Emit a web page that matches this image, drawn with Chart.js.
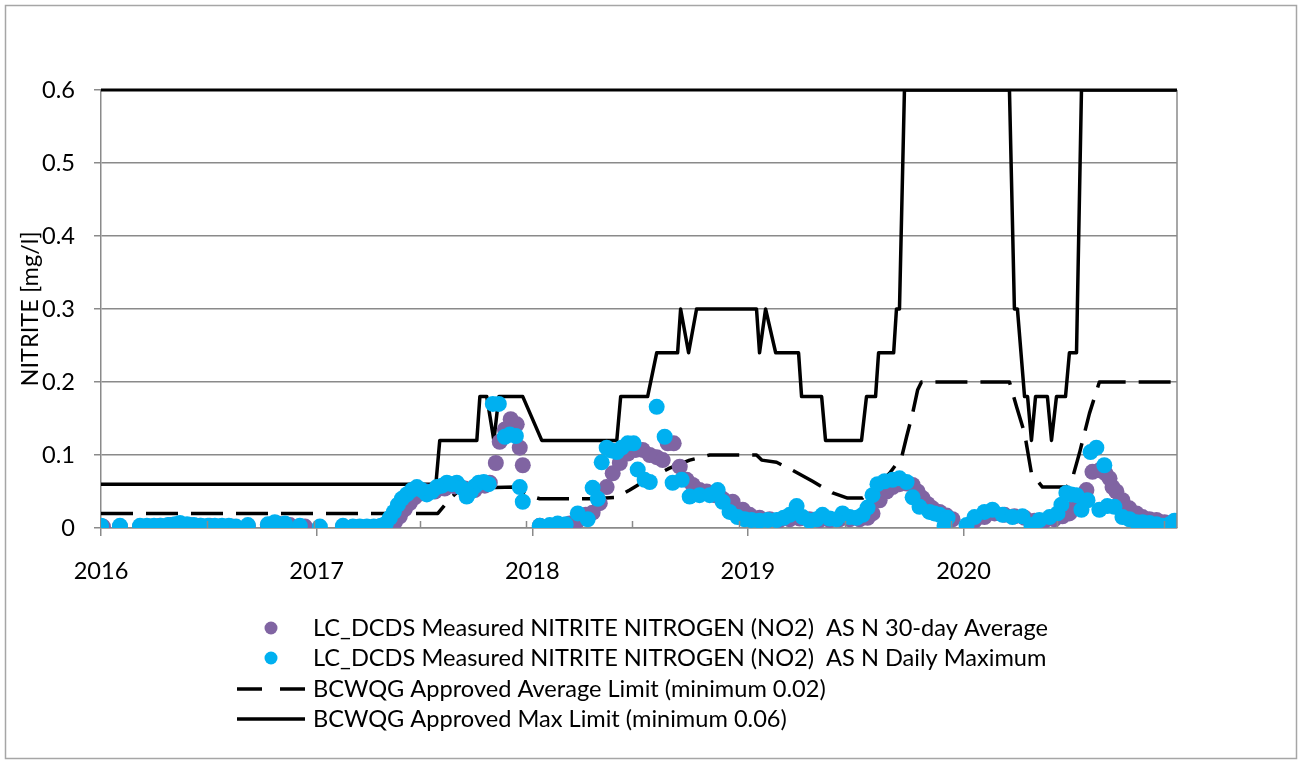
<!DOCTYPE html>
<html>
<head>
<meta charset="utf-8">
<title>NITRITE – LC_DCDS</title>
<script src="https://cdn.jsdelivr.net/npm/chart.js@4.4.1/dist/chart.umd.min.js"></script>
<style>
  html, body { margin: 0; padding: 0; background: #fff; }
  #c { display: block; }
</style>
</head>
<body>
<canvas id="c" width="1302" height="764"></canvas>
<script>
// ---- data (x = decimal year) ----
const seriesNames = [
  'LC_DCDS Measured NITRITE NITROGEN (NO2)  AS N 30-day Average',
  'LC_DCDS Measured NITRITE NITROGEN (NO2)  AS N Daily Maximum',
  'BCWQG Approved Average Limit (minimum 0.02)',
  'BCWQG Approved Max Limit (minimum 0.06)'
];
const yearTicks = [2016, 2017, 2018, 2019, 2020];

const avg30Dates = [
  2016.009, 2016.088, 2016.181, 2016.227, 2016.273, 2016.320, 2016.366, 2016.413, 2016.459, 2016.505,
  2016.552, 2016.607, 2016.681, 2016.774, 2016.820, 2016.876, 2016.946, 2017.122, 2017.177, 2017.224,
  2017.270, 2017.307, 2017.340, 2017.363, 2017.386, 2017.409, 2017.432, 2017.455, 2017.479, 2017.511,
  2017.548, 2017.594, 2017.641, 2017.687, 2017.733, 2017.780, 2017.803, 2017.831, 2017.849, 2017.873,
  2017.900, 2017.928, 2017.942, 2017.956, 2018.035, 2018.081, 2018.127, 2018.174, 2018.211, 2018.248,
  2018.280, 2018.313, 2018.345, 2018.373, 2018.406, 2018.443, 2018.480, 2018.512, 2018.545, 2018.577,
  2018.605, 2018.628, 2018.656, 2018.684, 2018.716, 2018.744, 2018.776, 2018.809, 2018.846, 2018.883,
  2018.929, 2018.976, 2019.008, 2019.054, 2019.101, 2019.147, 2019.194, 2019.240, 2019.286, 2019.333,
  2019.379, 2019.425, 2019.472, 2019.518, 2019.555, 2019.578, 2019.611, 2019.643, 2019.671, 2019.703,
  2019.736, 2019.764, 2019.787, 2019.810, 2019.833, 2019.856, 2019.889, 2019.921, 2019.949, 2020.051,
  2020.097, 2020.144, 2020.190, 2020.236, 2020.283, 2020.329, 2020.375, 2020.421, 2020.459, 2020.491,
  2020.519, 2020.542, 2020.570, 2020.598, 2020.630, 2020.658, 2020.677, 2020.691, 2020.709, 2020.737,
  2020.769, 2020.802, 2020.830, 2020.862, 2020.895, 2020.932, 2020.964, 2020.987
];
const avg30Values = [
  0.002, 0.002, 0.002, 0.002, 0.003, 0.004, 0.005, 0.004, 0.003, 0.003,
  0.002, 0.002, 0.003, 0.004, 0.006, 0.004, 0.002, 0.002, 0.001, 0.001,
  0.001, 0.002, 0.004, 0.008, 0.016, 0.026, 0.034, 0.042, 0.047, 0.050,
  0.050, 0.054, 0.057, 0.054, 0.052, 0.058, 0.062, 0.089, 0.118, 0.135,
  0.149, 0.142, 0.110, 0.086, 0.003, 0.003, 0.004, 0.006, 0.010, 0.018,
  0.021, 0.034, 0.056, 0.075, 0.089, 0.102, 0.107, 0.107, 0.100, 0.097,
  0.093, 0.116, 0.116, 0.084, 0.066, 0.059, 0.052, 0.050, 0.045, 0.040,
  0.036, 0.025, 0.018, 0.014, 0.012, 0.011, 0.012, 0.013, 0.012, 0.011,
  0.011, 0.012, 0.012, 0.012, 0.014, 0.020, 0.038, 0.050, 0.056, 0.060,
  0.061, 0.059, 0.050, 0.041, 0.033, 0.027, 0.022, 0.017, 0.012, 0.010,
  0.015, 0.020, 0.018, 0.016, 0.014, 0.010, 0.010, 0.012, 0.016, 0.020,
  0.030, 0.040, 0.052, 0.077, 0.079, 0.075, 0.068, 0.056, 0.050, 0.038,
  0.027, 0.020, 0.015, 0.012, 0.011, 0.008, 0.007, 0.006
];

const dailyMaxDates = [
  2016.000, 2016.088, 2016.181, 2016.213, 2016.246, 2016.278, 2016.311, 2016.343, 2016.366, 2016.399,
  2016.431, 2016.464, 2016.496, 2016.528, 2016.561, 2016.593, 2016.626, 2016.681, 2016.774, 2016.806,
  2016.853, 2016.922, 2017.015, 2017.122, 2017.168, 2017.200, 2017.233, 2017.265, 2017.298, 2017.321,
  2017.340, 2017.358, 2017.377, 2017.395, 2017.418, 2017.441, 2017.465, 2017.488, 2017.511, 2017.534,
  2017.557, 2017.581, 2017.604, 2017.627, 2017.650, 2017.673, 2017.696, 2017.715, 2017.733, 2017.752,
  2017.775, 2017.798, 2017.817, 2017.845, 2017.873, 2017.896, 2017.924, 2017.942, 2017.956, 2018.035,
  2018.081, 2018.118, 2018.155, 2018.211, 2018.257, 2018.280, 2018.304, 2018.322, 2018.345, 2018.368,
  2018.392, 2018.415, 2018.443, 2018.470, 2018.489, 2018.521, 2018.545, 2018.577, 2018.614, 2018.651,
  2018.693, 2018.730, 2018.776, 2018.823, 2018.860, 2018.883, 2018.915, 2018.952, 2018.985, 2019.017,
  2019.054, 2019.092, 2019.133, 2019.166, 2019.194, 2019.226, 2019.254, 2019.286, 2019.319, 2019.346,
  2019.379, 2019.411, 2019.439, 2019.472, 2019.504, 2019.532, 2019.555, 2019.578, 2019.601, 2019.634,
  2019.671, 2019.703, 2019.736, 2019.764, 2019.796, 2019.842, 2019.865, 2019.889, 2019.912, 2019.926,
  2020.014, 2020.051, 2020.097, 2020.134, 2020.181, 2020.227, 2020.273, 2020.315, 2020.352, 2020.399,
  2020.436, 2020.454, 2020.477, 2020.500, 2020.524, 2020.547, 2020.575, 2020.589, 2020.616, 2020.630,
  2020.653, 2020.667, 2020.700, 2020.737, 2020.769, 2020.802, 2020.830, 2020.862, 2020.895, 2020.922,
  2020.955, 2020.978
];
const dailyMaxValues = [
  0.003, 0.003, 0.003, 0.003, 0.003, 0.003, 0.004, 0.005, 0.007, 0.005,
  0.004, 0.003, 0.003, 0.003, 0.003, 0.003, 0.002, 0.004, 0.005, 0.008,
  0.006, 0.003, 0.002, 0.003, 0.002, 0.002, 0.002, 0.002, 0.003, 0.006,
  0.014, 0.022, 0.032, 0.040, 0.046, 0.052, 0.056, 0.052, 0.046, 0.050,
  0.056, 0.058, 0.062, 0.060, 0.062, 0.055, 0.043, 0.050, 0.057, 0.062,
  0.063, 0.060, 0.170, 0.170, 0.125, 0.128, 0.126, 0.056, 0.036, 0.003,
  0.004, 0.006, 0.005, 0.020, 0.012, 0.055, 0.040, 0.090, 0.110, 0.106,
  0.104, 0.110, 0.116, 0.116, 0.080, 0.066, 0.063, 0.166, 0.125, 0.062,
  0.066, 0.043, 0.045, 0.045, 0.052, 0.036, 0.022, 0.015, 0.012, 0.011,
  0.010, 0.011, 0.011, 0.014, 0.018, 0.030, 0.015, 0.010, 0.012, 0.018,
  0.013, 0.012, 0.020, 0.015, 0.014, 0.018, 0.028, 0.045, 0.060, 0.064,
  0.066, 0.068, 0.063, 0.042, 0.029, 0.022, 0.020, 0.018, 0.003, 0.014,
  0.004, 0.015, 0.022, 0.025, 0.018, 0.015, 0.016, 0.004, 0.011, 0.015,
  0.020, 0.032, 0.048, 0.046, 0.045, 0.025, 0.038, 0.104, 0.110, 0.025,
  0.086, 0.030, 0.029, 0.015, 0.012, 0.008, 0.008, 0.007, 0.005, 0.003,
  0.005, 0.010
];

const avgLimitDates = [
  2016.000, 2017.562, 2017.618, 2017.673, 2017.919, 2017.979, 2018.035, 2018.280, 2018.392, 2018.452,
  2018.531, 2018.637, 2018.730, 2018.823, 2019.040, 2019.064, 2019.133, 2019.207, 2019.300, 2019.393,
  2019.462, 2019.532, 2019.587, 2019.657, 2019.713, 2019.736, 2019.764, 2019.787, 2019.805, 2020.213,
  2020.246, 2020.283, 2020.315, 2020.366, 2020.477, 2020.500, 2020.538, 2020.584, 2020.630, 2020.992
];
const avgLimitValues = [
  0.020, 0.020, 0.040, 0.055, 0.056, 0.045, 0.040, 0.040, 0.042, 0.052,
  0.066, 0.082, 0.093, 0.100, 0.100, 0.093, 0.090, 0.079, 0.064, 0.048,
  0.041, 0.041, 0.055, 0.075, 0.097, 0.125, 0.157, 0.189, 0.200, 0.200,
  0.166, 0.130, 0.075, 0.056, 0.056, 0.063, 0.103, 0.157, 0.200, 0.200
];

const maxLimitDates = [
  2016.000, 2017.553, 2017.571, 2017.743, 2017.757, 2017.789, 2017.822, 2017.845, 2017.956, 2018.044,
  2018.392, 2018.410, 2018.535, 2018.577, 2018.674, 2018.688, 2018.725, 2018.762, 2019.040, 2019.054,
  2019.082, 2019.129, 2019.235, 2019.249, 2019.342, 2019.360, 2019.527, 2019.550, 2019.592, 2019.606,
  2019.676, 2019.689, 2019.703, 2019.726, 2020.213, 2020.236, 2020.250, 2020.283, 2020.297, 2020.315,
  2020.334, 2020.389, 2020.408, 2020.431, 2020.473, 2020.491, 2020.524, 2020.547, 2020.992
];
const maxLimitValues = [
  0.06, 0.06, 0.12, 0.12, 0.18, 0.18, 0.12, 0.18, 0.18, 0.12,
  0.12, 0.18, 0.18, 0.24, 0.24, 0.30, 0.24, 0.30, 0.30, 0.24,
  0.30, 0.24, 0.24, 0.18, 0.18, 0.12, 0.12, 0.18, 0.18, 0.24,
  0.24, 0.30, 0.30, 0.60, 0.60, 0.30, 0.30, 0.18, 0.18, 0.12,
  0.18, 0.18, 0.12, 0.18, 0.18, 0.24, 0.24, 0.60, 0.60
];

// ---- styling ----
const PURPLE = '#8064A2';
const CYAN = '#00B0F0';
const GRID = '#8a8a8a';
const FONT = { family: 'Lato, "DejaVu Sans", sans-serif', size: 23.6 };
const HALF_YEAR = 180 / 365.25;   // spacing of the small inner ticks on the date axis

const toPoints = (dates, values) => dates.map((d, i) => ({ x: d, y: values[i] }));

// White background, outer frame, top rule, right border and inner date ticks
const framePlugin = {
  id: 'frame',
  beforeDraw(chart) {
    const ctx = chart.ctx;
    ctx.save();
    ctx.fillStyle = '#fff';
    ctx.fillRect(0, 0, chart.width, chart.height);
    ctx.restore();
  },
  afterDraw(chart) {
    const { ctx, chartArea: a, scales } = chart;
    ctx.save();
    ctx.strokeStyle = '#a6a6a6';
    ctx.lineWidth = 1.5;
    ctx.strokeRect(5.5, 5.5, chart.width - 11, chart.height - 11);

    ctx.strokeStyle = GRID;
    ctx.lineWidth = 1.5;
    ctx.beginPath();
    ctx.moveTo(a.right, a.top);
    ctx.lineTo(a.right, a.bottom);
    ctx.stroke();

    // inner ticks of the date axis
    const xs = scales.x;
    ctx.beginPath();
    for (let v = xs.min + HALF_YEAR; v < xs.max; v += HALF_YEAR) {
      const px = Math.round(xs.getPixelForValue(v)) + 0.5;
      ctx.moveTo(px, a.bottom);
      ctx.lineTo(px, a.bottom - 7);
    }
    ctx.stroke();

    ctx.strokeStyle = '#000';
    ctx.lineWidth = 3;
    ctx.beginPath();
    ctx.moveTo(a.left, a.top);
    ctx.lineTo(a.right, a.top);
    ctx.stroke();
    ctx.restore();
  }
};

// Legend stacked under the plot, one entry per row
const legendPlugin = {
  id: 'stackedLegend',
  afterDraw(chart) {
    const ctx = chart.ctx;
    const rowY = [628, 658, 689, 719];
    const markX = 271, lineX0 = 237, lineX1 = 305, textX = 313;
    ctx.save();
    ctx.font = `${FONT.size}px ${FONT.family}`;
    ctx.textBaseline = 'middle';
    ctx.textAlign = 'left';
    chart.data.datasets.forEach((ds, i) => {
      const y = rowY[i];
      if (ds.showLine) {
        ctx.strokeStyle = ds.borderColor;
        ctx.lineWidth = ds.borderWidth;
        ctx.setLineDash(ds.borderDash ? [25, 18] : []);
        ctx.beginPath();
        ctx.moveTo(lineX0, y);
        ctx.lineTo(lineX1, y);
        ctx.stroke();
        ctx.setLineDash([]);
      } else {
        ctx.fillStyle = ds.backgroundColor;
        ctx.beginPath();
        ctx.arc(markX, y, 6.5, 0, Math.PI * 2);
        ctx.fill();
      }
      ctx.fillStyle = '#000';
      ctx.fillText(ds.label, textX, y);
    });
    ctx.restore();
  }
};

new Chart(document.getElementById('c'), {
  type: 'scatter',
  data: {
    datasets: [
      {
        label: seriesNames[0],
        data: toPoints(avg30Dates, avg30Values),
        backgroundColor: PURPLE, borderColor: PURPLE,
        pointRadius: 8, pointBorderWidth: 0, order: 1
      },
      {
        label: seriesNames[1],
        data: toPoints(dailyMaxDates, dailyMaxValues),
        backgroundColor: CYAN, borderColor: CYAN,
        pointRadius: 8, pointBorderWidth: 0, order: 0
      },
      {
        label: seriesNames[2],
        data: toPoints(avgLimitDates, avgLimitValues),
        showLine: true, borderColor: '#000', backgroundColor: '#000',
        borderWidth: 3.5, borderDash: [32, 13], borderJoinStyle: 'round',
        pointRadius: 0, tension: 0, order: 2
      },
      {
        label: seriesNames[3],
        data: toPoints(maxLimitDates, maxLimitValues),
        showLine: true, borderColor: '#000', backgroundColor: '#000',
        borderWidth: 3.5, borderJoinStyle: 'round',
        pointRadius: 0, tension: 0, order: 3
      }
    ]
  },
  options: {
    responsive: false,
    animation: false,
    devicePixelRatio: 1,
    events: [],
    layout: { padding: { top: 90, right: 125, bottom: 166, left: 0 } },
    plugins: { legend: { display: false }, tooltip: { enabled: false } },
    scales: {
      x: {
        type: 'linear',
        min: yearTicks[0],
        max: 2020.99,
        afterFit: s => { s.height = 70; },
        afterBuildTicks: s => { s.ticks = yearTicks.map(v => ({ value: v })); },
        ticks: {
          autoSkip: false, maxRotation: 0, padding: 21, color: '#000', font: FONT,
          callback: v => String(v)
        },
        grid: { drawOnChartArea: false, tickLength: 8, color: GRID, lineWidth: 1.5 },
        border: { color: GRID, width: 1.5 }
      },
      y: {
        min: 0,
        max: 0.6,
        afterFit: s => { s.width = 101; },
        ticks: {
          stepSize: 0.1, padding: 19, color: '#000', font: FONT,
          callback: v => (v === 0 ? '0' : v.toFixed(1))
        },
        grid: { color: GRID, lineWidth: 1.5, tickLength: 7 },
        border: { color: GRID, width: 1.5 },
        title: {
          display: true, text: 'NITRITE [mg/l]', color: '#000', font: FONT,
          padding: { top: 16, bottom: 0 }
        }
      }
    }
  },
  plugins: [framePlugin, legendPlugin]
});
</script>
</body>
</html>
